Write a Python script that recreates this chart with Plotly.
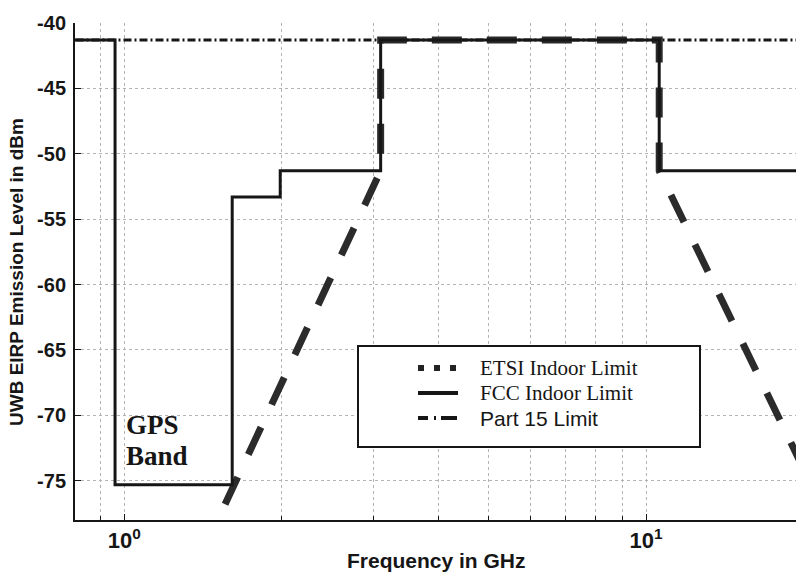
import plotly.graph_objects as go

# Emission masks (frequency in GHz, EIRP level in dBm)
fcc_freq = [0.7, 0.96, 0.96, 1.61, 1.61, 1.99, 1.99, 3.1, 3.1, 10.6, 10.6, 25.0]
fcc_level = [-41.3, -41.3, -75.3, -75.3, -53.3, -53.3, -51.3, -51.3, -41.3, -41.3, -51.3, -51.3]

etsi_freq = [1.56, 3.1, 3.1, 10.6, 10.6, 20.0]
etsi_level = [-76.8, -51.3, -41.3, -41.3, -51.3, -74.0]

part15_freq = [0.7, 25.0]
part15_level = [-41.3, -41.3]

legend_names = ["ETSI Indoor Limit", "FCC Indoor Limit", "Part 15 Limit"]

x_major = [1, 10]
x_major_text = ["10<sup>0</sup>", "10<sup>1</sup>"]
x_minor = [0.9, 2, 3, 4, 5, 6, 7, 8, 9]
y_ticks = [-40, -45, -50, -55, -60, -65, -70, -75]
y_tick_text = ["-40", "-45", "-50", "-55", "-60", "-65", "-70", "-75"]

# plot-area geometry in pixels
W, H = 796, 575
L, R, T, B = 75, 796, 23, 520


def px(x):
    return (x - L) / (R - L)


def py(y):
    return (B - y) / (B - T)


INK = "#161616"
SANS = "Liberation Sans, Arial, sans-serif"
SERIF = "Liberation Serif, Times New Roman, serif"

fig = go.Figure()

fig.add_trace(go.Scatter(
    x=part15_freq, y=part15_level, mode="lines", name=legend_names[2],
    line=dict(color=INK, width=3, dash="8px,3px,2px,3px"), showlegend=False))

fig.add_trace(go.Scatter(
    x=etsi_freq, y=etsi_level, mode="lines", name=legend_names[0],
    line=dict(color="#2b2b2b", width=7, dash="30px,25px"), showlegend=False))

fig.add_trace(go.Scatter(
    x=fcc_freq, y=fcc_level, mode="lines", name=legend_names[1],
    line=dict(color=INK, width=3), showlegend=False))

grid = dict(gridcolor="#b4b4b4", griddash="dot", gridwidth=1)

fig.update_xaxes(
    type="log",
    range=[-0.0945, 1.2875],
    tickvals=x_major, ticktext=x_major_text,
    ticks="inside", ticklen=6, tickcolor=INK,
    showline=True, linecolor=INK, linewidth=2,
    showgrid=True, **grid,
    tickfont=dict(family=SANS, size=22, color=INK, weight="bold"),
    minor=dict(tickvals=x_minor, ticks="inside", ticklen=4, tickcolor=INK,
               showgrid=True, gridcolor="#b4b4b4", griddash="dot", gridwidth=1),
    zeroline=False,
)

fig.update_yaxes(
    range=[-78, -40],
    tickvals=y_ticks, ticktext=y_tick_text,
    ticks="inside", ticklen=6, tickcolor=INK,
    showline=True, linecolor=INK, linewidth=2,
    showgrid=True, **grid,
    tickfont=dict(family=SANS, size=20, color=INK, weight="bold"),
    ticklabelstandoff=3,
    zeroline=False,
)

shapes = []
annotations = []

# legend frame
shapes.append(dict(type="rect", xref="paper", yref="paper",
                   x0=px(358), x1=px(700), y0=py(447), y1=py(346),
                   line=dict(color=INK, width=2), fillcolor="white", layer="above"))

rows = [368, 393, 418]
sym_styles = [
    dict(color="#222222", width=6, dash="6px,10px"),
    dict(color=INK, width=4),
    dict(color=INK, width=4, dash="10px,6px,2px,5px,16px,10px"),
]
label_fonts = [SERIF, SERIF, SANS]
for yc, st, name, fam in zip(rows, sym_styles, legend_names, label_fonts):
    shapes.append(dict(type="line", xref="paper", yref="paper",
                       x0=px(418), x1=px(458), y0=py(yc), y1=py(yc),
                       line=st, layer="above"))
    annotations.append(dict(xref="paper", yref="paper", x=px(478), y=py(yc),
                            xanchor="left", yanchor="middle", showarrow=False,
                            text=name, font=dict(family=fam, size=21, color=INK)))

# band label
annotations.append(dict(xref="paper", yref="paper", x=px(124), y=py(425),
                        xanchor="left", yanchor="middle", showarrow=False,
                        text="<b>GPS</b>", font=dict(family=SERIF, size=27, color=INK)))
annotations.append(dict(xref="paper", yref="paper", x=px(124), y=py(456),
                        xanchor="left", yanchor="middle", showarrow=False,
                        text="<b>Band</b>", font=dict(family=SERIF, size=27, color=INK)))

# axis titles
annotations.append(dict(xref="paper", yref="paper", x=px(436), y=py(560),
                        xanchor="center", yanchor="middle", showarrow=False,
                        text="<b>Frequency in GHz</b>",
                        font=dict(family=SANS, size=21, color=INK)))
annotations.append(dict(xref="paper", yref="paper", x=px(16), y=py(272),
                        xanchor="center", yanchor="middle", showarrow=False,
                        textangle=-90,
                        text="<b>UWB EIRP Emission Level in dBm</b>",
                        font=dict(family=SANS, size=19, color=INK)))

fig.update_layout(
    width=W, height=H,
    margin=dict(l=L, r=W - R, t=T, b=H - B),
    plot_bgcolor="white", paper_bgcolor="white",
    shapes=shapes, annotations=annotations,
    showlegend=False,
)

fig.write_html("out.html")
